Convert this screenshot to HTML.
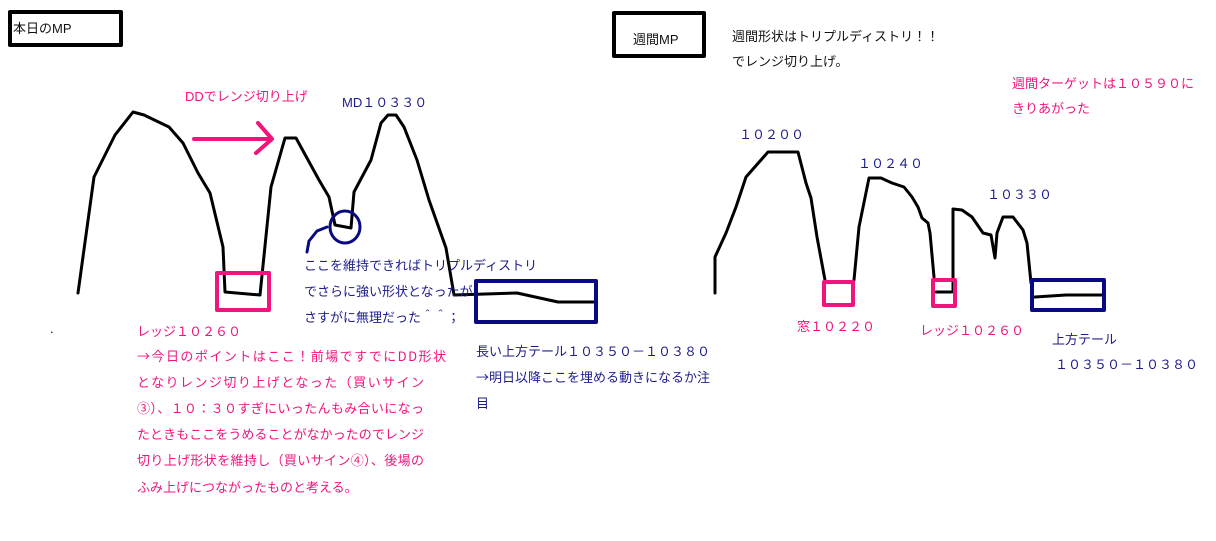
<!DOCTYPE html>
<html><head><meta charset="utf-8"><style>
body{margin:0;background:#fff}
svg{display:block}
text{font-family:"Liberation Sans","Noto Sans CJK JP",sans-serif;font-size:13px}
.j{font-family:"Noto Sans CJK JP","Liberation Sans",sans-serif}
.p{fill:#f0157d}.n{fill:#1c1c8c}.k{fill:#111}
</style></head><body>
<svg width="1216" height="541" viewBox="0 0 1216 541" xmlns="http://www.w3.org/2000/svg">
<g fill="none" stroke-linejoin="round" stroke-linecap="round">
<rect x="10" y="12" width="111" height="33" stroke="#000" stroke-width="4"/>
<rect x="614" y="13" width="90" height="43" stroke="#000" stroke-width="4"/>
<polyline stroke="#000" stroke-width="3" points="78,293 94,177 115,135 133,112 144,115 169,127 183,143 198,173 210,193 223,247 225,292 260,295 271,187 285,138 296,138 319,180 329,197 335,225 351,228 354,192 371,160 381,123 388,115 396,115 404,127 417,160 429,200 446,248 454,295 517,293 558,302 596,302"/>
<line x1="194" y1="139" x2="271" y2="139" stroke="#f0157d" stroke-width="4"/>
<polyline points="258,123 272,139 256,153" stroke="#f0157d" stroke-width="4"/>
<rect x="217" y="273" width="52" height="37" stroke="#f0157d" stroke-width="4"/>
<ellipse cx="345" cy="227" rx="15" ry="16" stroke="#0a0a80" stroke-width="3"/>
<polyline points="307,252 309,241 317,231 327,227" stroke="#0a0a80" stroke-width="3"/>
<rect x="476" y="281" width="120" height="41" stroke="#0a0a80" stroke-width="4"/>
<polyline stroke="#000" stroke-width="3" points="715,293 715,257 726,233 736,207 746,177 768,152 798,152 806,183 811,198 817,237 825,280"/>
<polyline stroke="#000" stroke-width="3" points="854,280 859,227 869,178 881,178 892,183 904,187 912,197 918,207 922,218 928,223 930,233 934,277"/>
<line x1="936" y1="292" x2="951" y2="292" stroke="#000" stroke-width="3"/>
<polyline stroke="#000" stroke-width="3" points="953,292 953,209 962,210 972,217 983,233 991,235 995,258 997,233 1003,217 1013,217 1023,230 1027,243 1031,283"/>
<polyline stroke="#000" stroke-width="3" points="1035,297 1066,295 1102,295"/>
<rect x="824" y="282" width="29" height="23" stroke="#f0157d" stroke-width="4"/>
<rect x="933" y="280" width="22" height="26" stroke="#f0157d" stroke-width="4"/>
<rect x="1032" y="280" width="72" height="30" stroke="#0a0a80" stroke-width="4"/>
</g>
<text x="13" y="33" class="k">本日のMP</text>
<text x="185" y="101" class="p">DDでレンジ切り上げ</text>
<text x="342" y="107" class="n">MD１０３３０</text>
<text x="304" y="270" class="n">ここを維持できればトリプルディストリ</text>
<text x="304" y="296" class="n">でさらに強い形状となったが</text>
<text x="304" y="322" class="n j">さすがに無理だった＾＾；</text>
<text x="137" y="336" class="p j">レッジ１０２６０</text>
<text x="137" y="361" class="p j" textLength="309" lengthAdjust="spacing">→今日のポイントはここ！前場ですでにDD形状</text>
<text x="137" y="387" class="p j" textLength="287" lengthAdjust="spacing">となりレンジ切り上げとなった（買いサイン</text>
<text x="137" y="413" class="p j" textLength="287" lengthAdjust="spacing">③）、１０：３０すぎにいったんもみ合いになっ</text>
<text x="137" y="439" class="p j" textLength="287" lengthAdjust="spacing">たときもここをうめることがなかったのでレンジ</text>
<text x="137" y="465" class="p j" textLength="287" lengthAdjust="spacing">切り上げ形状を維持し（買いサイン④）、後場の</text>
<text x="137" y="492" class="p j">ふみ上げにつながったものと考える。</text>
<text class="n j"><tspan x="476" y="356">長い上方テール１０３５０－１０３８０</tspan><tspan x="476" y="382">→明日以降ここを埋める動きになるか注</tspan><tspan x="476" y="408">目</tspan></text>
<text x="633" y="44" class="k">週間MP</text>
<text x="732" y="41" class="k j">週間形状はトリプルディストリ！！</text>
<text x="732" y="66" class="k">でレンジ切り上げ。</text>
<text x="1012" y="88" class="p">週間ターゲットは１０５９０に</text>
<text x="1012" y="113" class="p">きりあがった</text>
<text x="739" y="139" class="n">１０２００</text>
<text x="858" y="168" class="n">１０２４０</text>
<text x="987" y="199" class="n">１０３３０</text>
<text x="797" y="331" class="p">窓１０２２０</text>
<text x="920" y="335" class="p">レッジ１０２６０</text>
<text x="1052" y="344" class="n">上方テール</text>
<text x="1055" y="369" class="n" font-size="12.5">１０３５０－１０３８０</text>
<text x="50" y="333" class="k" font-size="5">.</text>
</svg>
</body></html>
